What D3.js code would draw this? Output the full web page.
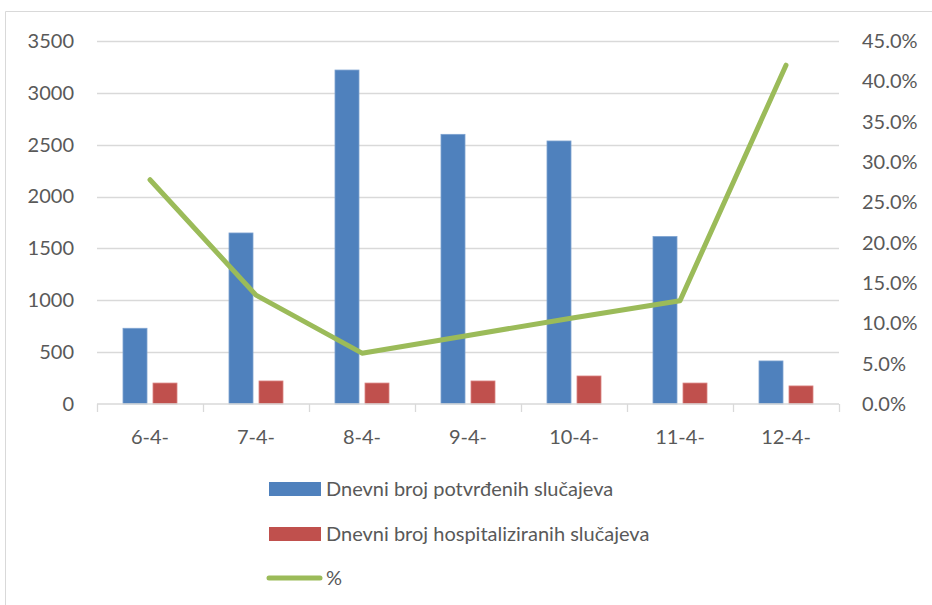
<!DOCTYPE html>
<html>
  <head>
    <meta charset="utf-8">
    <title>dnevni broj slucajeva</title>
    <style>
      body { margin: 0; background: #fff; }
      text { font-family: Lato, "Open Sans", sans-serif; fill: #595959; }
    </style>
  </head>
  <body>
    <script src="https://cdn.jsdelivr.net/npm/d3@7"></script>
    <script type="text/javascript">
      var days = ["6-4-", "7-4-", "8-4-", "9-4-", "10-4-", "11-4-", "12-4-"];
      var confirmed = [730, 1649, 3220, 2600, 2536, 1615, 415];
      var hospitalized = [202, 222, 202, 222, 270, 202, 174];
      var percent = [27.8, 13.5, 6.3, 8.5, 10.7, 12.8, 42.0];
      var leftTicks = [0, 500, 1000, 1500, 2000, 2500, 3000, 3500];
      var rightTicks = [0, 5, 10, 15, 20, 25, 30, 35, 40, 45];
      var seriesNames = ["Dnevni broj potvrđenih slučajeva", "Dnevni broj hospitaliziranih slučajeva", "%"];

      var width = 932;
      var height = 605;
      var blue = "#4f81bd", red = "#c0504d", green = "#9bbb59";

      var svg = d3.select("body")
                  .append("svg")
                  .attr("width", width)
                  .attr("height", height);

      // chart frame
      svg.append("path")
         .attr("d", "M5.5,605V11.5H932")
         .attr("fill", "none")
         .attr("stroke", "#d9d9d9");

      var x0 = d3.scaleBand()
                 .domain(days)
                 .range([97, 839]);

      var x1 = d3.scaleBand()
                 .domain([0, 1])
                 .range([x0.bandwidth() / 2 - 27, x0.bandwidth() / 2 + 27])
                 .paddingInner(0.2);

      var yLeft = d3.scaleLinear()
                    .domain([0, 3500])
                    .range([404, 41]);

      var yRight = d3.scaleLinear()
                     .domain([0, 45])
                     .range([404, 41]);

      // gridlines
      svg.append("g")
         .selectAll("line")
         .data(leftTicks.slice(1))
         .enter().append("line")
         .attr("x1", 97).attr("x2", 839)
         .attr("y1", function(d) { return Math.round(yLeft(d)) + 0.5; })
         .attr("y2", function(d) { return Math.round(yLeft(d)) + 0.5; })
         .attr("stroke", "#d9d9d9")
         .attr("stroke-width", 1.3);

      // left axis labels
      var left = svg.append("g")
                    .attr("transform", "translate(74,0)")
                    .call(d3.axisLeft(yLeft).tickValues(leftTicks).tickSize(0).tickPadding(0)
                            .tickFormat(d3.format("d")));
      left.select(".domain").remove();

      // right axis labels
      var right = svg.append("g")
                     .attr("transform", "translate(862,0)")
                     .call(d3.axisRight(yRight).tickValues(rightTicks).tickSize(0).tickPadding(0)
                             .tickFormat(function(d) { return d.toFixed(1) + "%"; }));
      right.select(".domain").remove();

      svg.selectAll(".tick text")
         .attr("font-size", 20)
         .attr("fill", "#595959")
         .attr("font-family", "Lato, sans-serif");

      // bars
      var groups = svg.append("g")
                      .selectAll("g")
                      .data(days)
                      .enter().append("g")
                      .attr("transform", function(d) { return "translate(" + x0(d) + ",0)"; });

      groups.append("rect")
            .attr("x", x1(0))
            .attr("width", x1.bandwidth())
            .attr("y", function(d, i) { return yLeft(confirmed[i]); })
            .attr("height", function(d, i) { return yLeft(0) - yLeft(confirmed[i]); })
            .attr("fill", blue)
            .attr("stroke", "#7da2d0")
            .attr("stroke-width", 0.8);

      groups.append("rect")
            .attr("x", x1(1))
            .attr("width", x1.bandwidth())
            .attr("y", function(d, i) { return yLeft(hospitalized[i]); })
            .attr("height", function(d, i) { return yLeft(0) - yLeft(hospitalized[i]); })
            .attr("fill", red)
            .attr("stroke", "#d98280")
            .attr("stroke-width", 0.8);

      // category axis
      var bottom = svg.append("g")
                      .attr("transform", "translate(0,404)")
                      .call(d3.axisBottom(x0).tickSize(0).tickPadding(26));
      bottom.select(".domain").attr("stroke", "#d9d9d9").attr("stroke-width", 1.3)
            .attr("d", "M97,0H839");
      bottom.selectAll(".tick text")
            .attr("font-size", 20)
            .attr("fill", "#595959")
            .attr("font-family", "Lato, sans-serif");

      var bounds = days.map(function(d) { return x0(d); }).concat([839]);
      bottom.selectAll(".bound")
            .data(bounds)
            .enter().append("line")
            .attr("x1", function(d) { return Math.round(d) + 0.5; })
            .attr("x2", function(d) { return Math.round(d) + 0.5; })
            .attr("y1", 0).attr("y2", 8)
            .attr("stroke", "#d9d9d9")
            .attr("stroke-width", 1.3);

      // percent line
      var line = d3.line()
                   .x(function(d, i) { return x0(days[i]) + x0.bandwidth() / 2; })
                   .y(function(d) { return yRight(d); });

      svg.append("path")
         .datum(percent)
         .attr("d", line)
         .attr("fill", "none")
         .attr("stroke", green)
         .attr("stroke-width", 5)
         .attr("stroke-linecap", "round")
         .attr("stroke-linejoin", "round");

      // legend
      var legend = svg.append("g");
      var rowsY = [489, 534, 578];
      var colors = [blue, red, green];

      seriesNames.forEach(function(name, i) {
        if (i < 2) {
          legend.append("rect")
                .attr("x", 269).attr("y", rowsY[i] - 7)
                .attr("width", 52).attr("height", 14)
                .attr("fill", colors[i]);
        } else {
          legend.append("line")
                .attr("x1", 269).attr("x2", 320)
                .attr("y1", rowsY[i]).attr("y2", rowsY[i])
                .attr("stroke", colors[i])
                .attr("stroke-width", 5)
                .attr("stroke-linecap", "round");
        }
        legend.append("text")
              .attr("x", 326)
              .attr("y", rowsY[i])
              .attr("dy", "0.35em")
              .attr("font-size", 20)
              .text(name);
      });
    </script>
  </body>
</html>
